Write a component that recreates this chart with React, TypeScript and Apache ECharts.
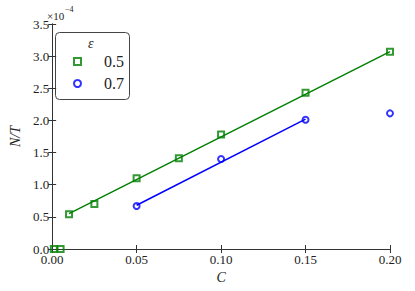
import React, { useEffect, useRef } from "react";
import * as echarts from "echarts";

const legendTitle = "ε";
const seriesNames = ["0.5", "0.7"];
const cGreen = [0.001, 0.005, 0.01, 0.025, 0.05, 0.075, 0.1, 0.15, 0.2];
const vGreen = [0.0, 0.0, 0.54, 0.7, 1.1, 1.41, 1.78, 2.43, 3.07];
const cBlue = [0.05, 0.1, 0.15, 0.2];
const vBlue = [0.67, 1.4, 2.01, 2.11];
const fitGreenC = [0.01, 0.2];
const fitGreenV = [0.55, 3.07];
const fitBlueC = [0.05, 0.15];
const fitBlueV = [0.68, 2.02];
const xTicks = { min: 0, max: 0.2, interval: 0.05 };
const yTicks = { min: 0, max: 3.5, interval: 0.5 };
const yScaleLabel = "×10";
const yScaleExp = "−4";

const GREEN = "#008000";
const BLUE = "#0000ff";
const FONT = "Liberation Serif";

const zip = (a: number[], b: number[]) => a.map((x, i) => [x, b[i]]);

export default function App() {
  const ref = useRef<HTMLDivElement>(null);
  useEffect(() => {
    if (!ref.current) return;
    const chart = echarts.init(ref.current, undefined, { renderer: "svg" });
    const axisLine = { show: true, lineStyle: { color: "#333", width: 1 } };
    const tick = { show: true, inside: true, length: 4, lineStyle: { color: "#333" } };
    const label = { fontFamily: FONT, fontSize: 13, color: "#222" };
    chart.setOption({
      animation: false,
      grid: { left: 48, right: 25, top: 24, bottom: 42 },
      xAxis: [
        {
          type: "value", min: xTicks.min, max: xTicks.max, interval: xTicks.interval,
          axisLine, axisTick: tick, splitLine: { show: false },
          axisLabel: { ...label, margin: 4, formatter: (v: number) => v.toFixed(2) },
          name: "C", nameLocation: "middle", nameGap: 9,
          nameTextStyle: { fontFamily: FONT, fontSize: 14, fontStyle: "italic", color: "#222" },
        },
        {
          type: "value", position: "top", min: xTicks.min, max: xTicks.max, interval: xTicks.interval,
          axisLine, axisTick: tick, axisLabel: { show: false }, splitLine: { show: false },
        },
      ],
      yAxis: [
        {
          type: "value", min: yTicks.min, max: yTicks.max, interval: yTicks.interval,
          axisLine, axisTick: tick, splitLine: { show: false },
          axisLabel: { ...label, margin: 3, formatter: (v: number) => v.toFixed(1) },
          name: "N/T", nameLocation: "middle", nameGap: 23, nameRotate: 90,
          nameTextStyle: { fontFamily: FONT, fontSize: 14, fontStyle: "italic", color: "#222" },
        },
        {
          type: "value", position: "right", min: yTicks.min, max: yTicks.max, interval: yTicks.interval,
          axisLine, axisTick: tick, axisLabel: { show: false }, splitLine: { show: false },
        },
      ],
      legend: {
        data: seriesNames,
        orient: "vertical",
        left: 73,
        top: 53,
        padding: 0,
        itemWidth: 7,
        itemHeight: 7,
        itemGap: 5,
        textStyle: { fontFamily: FONT, fontSize: 16, color: "#222", padding: [0, 0, 0, 18], lineHeight: 17 },
      },
      graphic: [
        {
          type: "rect", left: 55, top: 32, z: 0,
          shape: { width: 74, height: 67, r: 4 },
          style: { fill: "#fff", stroke: "#444", lineWidth: 1 },
        },
        {
          type: "text", left: 88, top: 36, z: 10,
          style: { text: legendTitle, font: `italic 14px ${FONT}`, fill: "#222" },
        },
        {
          type: "text", left: 47, top: 10,
          style: { text: yScaleLabel, font: `11px ${FONT}`, fill: "#222" },
        },
        {
          type: "text", left: 65, top: 5,
          style: { text: yScaleExp, font: `8px ${FONT}`, fill: "#222" },
        },
      ],
      series: [
        {
          name: "fit0.5", type: "line", data: zip(fitGreenC, fitGreenV), symbol: "none",
          lineStyle: { color: GREEN, width: 1.5 }, z: 2,
        },
        {
          name: "fit0.7", type: "line", data: zip(fitBlueC, fitBlueV), symbol: "none",
          lineStyle: { color: BLUE, width: 1.5 }, z: 2,
        },
        {
          name: seriesNames[0], type: "scatter", data: zip(cGreen, vGreen), symbol: "rect", symbolSize: 6,
          itemStyle: { color: "rgba(255,255,255,0)", borderColor: GREEN, borderWidth: 2 }, z: 5,
        },
        {
          name: seriesNames[1], type: "scatter", data: zip(cBlue, vBlue), symbol: "circle", symbolSize: 6,
          itemStyle: { color: "rgba(255,255,255,0)", borderColor: BLUE, borderWidth: 2 }, z: 5,
        },
      ],
    });
    return () => chart.dispose();
  }, []);
  return <div ref={ref} style={{ width: 415, height: 291, position: "absolute", left: 0, top: 0 }} />;
}
